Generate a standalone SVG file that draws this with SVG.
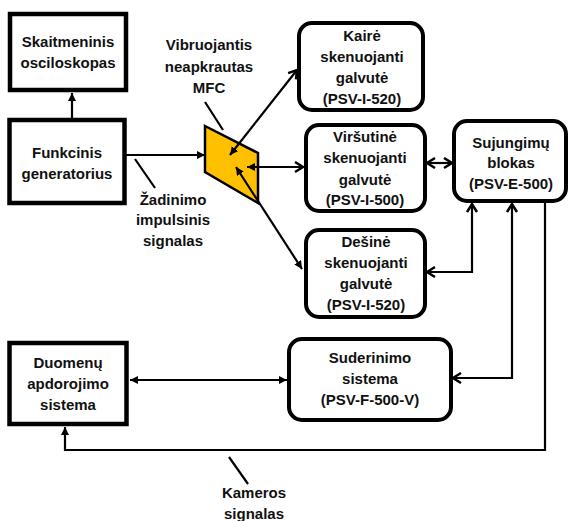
<svg xmlns="http://www.w3.org/2000/svg" width="570" height="521" viewBox="0 0 570 521">
<style>
.box{fill:#fff;stroke:#000;stroke-width:4.5}
.rbox{fill:#fff;stroke:#000;stroke-width:4}
text{font-family:"Liberation Sans",Arial,sans-serif;font-weight:bold;font-size:15px;fill:#111;text-anchor:middle}
.c{fill:none;stroke:#000;stroke-width:2.2}
.lead{stroke:#000;stroke-width:2.2}
</style>
<defs>
<marker id="tri" markerUnits="userSpaceOnUse" markerWidth="10" markerHeight="10" refX="8" refY="4" orient="auto-start-reverse">
<path d="M0,0 L8,4 L0,8 z" fill="#000"/>
</marker>
<marker id="chev" markerUnits="userSpaceOnUse" markerWidth="14" markerHeight="14" refX="10" refY="6" orient="auto-start-reverse">
<path d="M2,1 L10,6 L2,11" fill="none" stroke="#000" stroke-width="2.5"/>
</marker>
</defs>

<g id="mfc">
<polygon points="205,126 258,153 258,203 205,172" fill="#FFC000" stroke="#000" stroke-width="2.5"/>
<text x="209" y="50">Vibruojantis</text>
<text x="209" y="72">neapkrautas</text>
<text x="209" y="93">MFC</text>
</g>

<g id="connectors">
<line class="c" x1="72" y1="118" x2="72" y2="93" marker-end="url(#tri)"/>
<line class="c" x1="126" y1="155" x2="205" y2="155" marker-end="url(#tri)"/>
<line class="c" x1="230" y1="155" x2="297" y2="70" marker-start="url(#tri)" marker-end="url(#chev)"/>
<line class="c" x1="247" y1="167" x2="303" y2="167" marker-start="url(#tri)" marker-end="url(#chev)"/>
<line class="c" x1="236" y1="167" x2="302" y2="269" marker-start="url(#tri)" marker-end="url(#tri)"/>
<line class="c" x1="427" y1="163" x2="452" y2="163" marker-start="url(#chev)" marker-end="url(#chev)"/>
<path class="c" d="M427,272 H472 V204" marker-start="url(#chev)" marker-end="url(#chev)"/>
<path class="c" d="M453,378 H512 V204" marker-start="url(#chev)" marker-end="url(#chev)"/>
<path class="c" d="M545,203 V450 H65 V427" marker-end="url(#tri)"/>
<line class="c" x1="130" y1="380" x2="287" y2="380" marker-start="url(#tri)" marker-end="url(#tri)"/>
<line class="lead" x1="205" y1="102" x2="223" y2="130"/>
<line class="lead" x1="135" y1="159" x2="155" y2="188"/>
<line class="lead" x1="229" y1="457" x2="248" y2="484"/>
</g>

<g id="skaitmeninis">
<rect class="box" x="10" y="14" width="116" height="76"/>
<text x="68" y="47">Skaitmeninis</text>
<text x="68" y="68">osciloskopas</text>
</g>

<g id="funkcinis">
<rect class="box" x="9.5" y="120" width="115" height="83"/>
<text x="67" y="158">Funkcinis</text>
<text x="67" y="179">generatorius</text>
</g>

<g id="zadinimo">
<text x="173" y="205">Žadinimo</text>
<text x="173" y="225">impulsinis</text>
<text x="173" y="246">signalas</text>
</g>

<g id="kaire">
<rect class="rbox" x="299" y="23" width="124" height="87" rx="13"/>
<text x="362" y="41">Kairė</text>
<text x="362" y="62">skenuojanti</text>
<text x="362" y="83">galvutė</text>
<text x="362" y="104">(PSV-I-520)</text>
</g>

<g id="virsutine">
<rect class="rbox" x="306" y="125" width="119" height="86" rx="13"/>
<text x="365" y="142">Viršutinė</text>
<text x="365" y="163">skenuojanti</text>
<text x="365" y="185">galvutė</text>
<text x="365" y="205">(PSV-I-500)</text>
</g>

<g id="desine">
<rect class="rbox" x="306" y="230" width="119" height="87" rx="13"/>
<text x="366" y="247">Dešinė</text>
<text x="366" y="268">skenuojanti</text>
<text x="366" y="289">galvutė</text>
<text x="366" y="310">(PSV-I-520)</text>
</g>

<g id="sujungimu">
<rect class="rbox" x="454" y="121" width="112" height="80" rx="13"/>
<text x="511" y="148">Sujungimų</text>
<text x="511" y="168">blokas</text>
<text x="511" y="189">(PSV-E-500)</text>
</g>

<g id="suderinimo">
<rect class="rbox" x="289" y="339" width="162" height="81" rx="13"/>
<text x="370" y="363">Suderinimo</text>
<text x="370" y="384">sistema</text>
<text x="370" y="405">(PSV-F-500-V)</text>
</g>

<g id="duomenu">
<rect class="box" x="9.5" y="343" width="117" height="81"/>
<text x="68" y="368">Duomenų</text>
<text x="68" y="389">apdorojimo</text>
<text x="68" y="410">sistema</text>
</g>

<g id="kameros">
<text x="254" y="498">Kameros</text>
<text x="254" y="519">signalas</text>
</g>
</svg>
